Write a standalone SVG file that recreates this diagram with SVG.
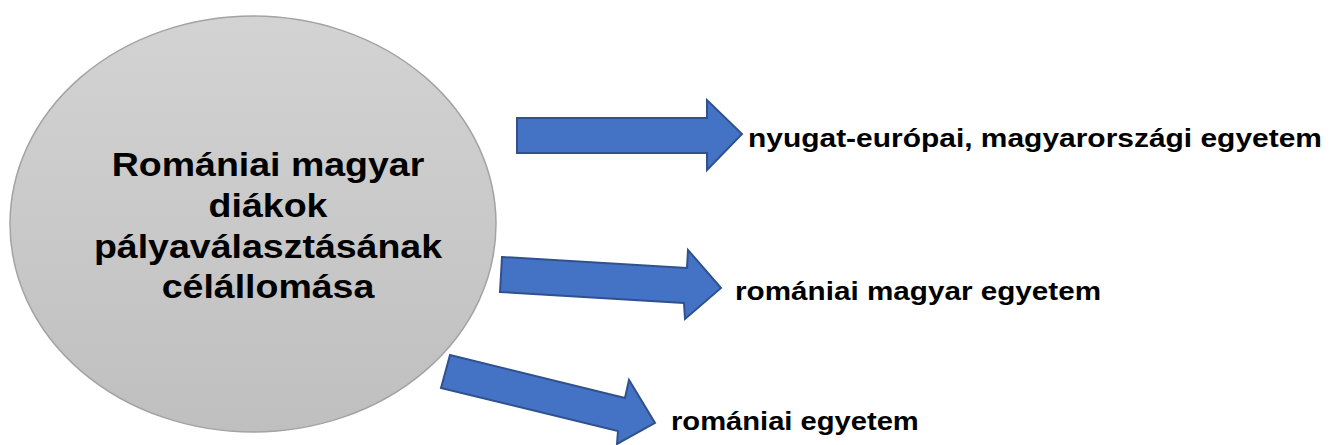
<svg xmlns="http://www.w3.org/2000/svg" width="1333" height="445" viewBox="0 0 1333 445">
<style>
.arrow{fill:#4472C4;stroke:#2F528F;stroke-width:2;stroke-linejoin:miter}
.t{font-family:"Liberation Sans",Arial,sans-serif;font-weight:bold;fill:#000}
.c{font-size:33.5px;text-anchor:middle}
.r{font-size:26.5px}
</style>
<defs>
<linearGradient id="g" x1="0" y1="0" x2="0" y2="1">
<stop offset="0" stop-color="#d3d3d3"/>
<stop offset="1" stop-color="#bfbfbf"/>
</linearGradient>
</defs>
<g id="center">
<ellipse cx="253" cy="224" rx="243" ry="208" fill="url(#g)" stroke="#a3a3a3" stroke-width="1.5"/>
<g transform="translate(268,0) scale(1.12,1)">
<text class="t c" x="0" y="176">Romániai magyar</text>
<text class="t c" x="0" y="217.5">diákok</text>
<text class="t c" x="0" y="258">pályaválasztásának</text>
<text class="t c" x="0" y="298.5">célállomása</text>
</g>
</g>
<g id="connectors">
<polygon class="arrow" points="517,118 707,118 707,100 742,134 707,170 707,153 517,153"/>
<polygon class="arrow" points="502,257 687,268 688,250 721,288 685,319 684,303 500,292"/>
<polygon class="arrow" points="450,355 625,398 629,380 655,423 617,444 618,431 441,388"/>
</g>
<g id="n1" transform="translate(748,0) scale(1.13,1)">
<text class="t r" x="0" y="147">nyugat-európai, magyarországi egyetem</text>
</g>
<g id="n2" transform="translate(735,0) scale(1.12,1)">
<text class="t r" x="0" y="300">romániai magyar egyetem</text>
</g>
<g id="n3" transform="translate(671,0) scale(1.1,1)">
<text class="t r" x="0" y="430">romániai egyetem</text>
</g>
</svg>
